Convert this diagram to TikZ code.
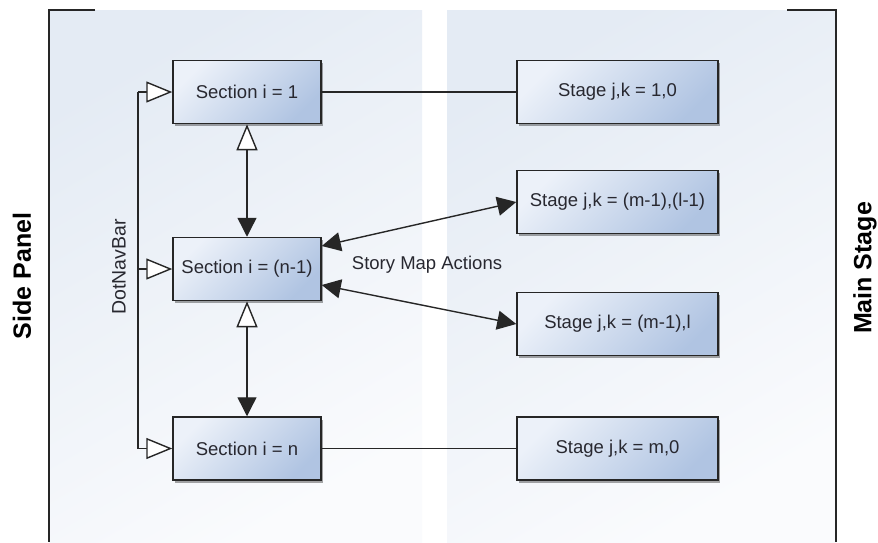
\documentclass[tikz,border=0pt]{standalone}
\usepackage{fontspec}
\setmainfont{Liberation Sans}
\usetikzlibrary{arrows.meta,shadows}
\definecolor{lineC}{RGB}{38,38,38}
\definecolor{txtC}{RGB}{40,40,48}
\definecolor{boxTop}{RGB}{236,241,249}
\definecolor{boxBot}{RGB}{176,196,226}
\definecolor{panTop}{RGB}{228,235,244}
\definecolor{panBot}{RGB}{250,251,253}
\tikzset{
  box/.style={draw=lineC, line width=1.5pt, top color=boxTop, bottom color=boxBot, shading angle=45,
    minimum width=148pt, minimum height=63pt, inner sep=0pt, text=txtC, font=\fontsize{18.5}{20}\selectfont,
    drop shadow={shadow xshift=2pt, shadow yshift=-2.5pt, fill=black, opacity=0.35}},
  stagebox/.style={box, minimum width=201pt},
  conn/.style={draw=lineC, line width=1.4pt},
  filltip/.tip={Triangle[length=19pt, width=19pt]},
  opentip/.tip={Triangle[open, length=26pt, width=21pt, fill=white]},
  panel/.style={top color=panTop, bottom color=panBot, shading angle=30, draw=none},
  side/.style={font=\fontsize{25}{28}\selectfont\bfseries, rotate=90, text=black},
}
\begin{document}
\begin{tikzpicture}[x=1pt, y=-1pt]
\useasboundingbox (0,0) rectangle (878,542);
\fill[white] (0,0) rectangle (878,542);
% panels
\shade[panel] (49,10) rectangle (422,542);
\shade[panel] (447,10) rectangle (836,542);
\draw[conn] (95,10) -- (49,10) -- (49,542);
\draw[conn] (787,10) -- (836,10) -- (836,542);
\node[side] (sidep) at (22,276) {Side Panel};
\node[side] (mainst) at (865,268) {Main Stage};
% section boxes
\node[box] (s1) at (247,92) {Section i = 1};
\node[box] (sn1) at (247,269) {Section i = (n-1)};
\node[box] (sn) at (247,448.5) {Section i = n};
% stage boxes
\node[stagebox] (st10) at (617.5,92) {Stage j,k = 1,0};
\node[stagebox] (stA) at (617.5,202) {Stage j,k = (m-1),(l-1)};
\node[stagebox] (stB) at (617.5,324) {Stage j,k = (m-1),l};
\node[stagebox] (stm0) at (617.5,448.5) {Stage j,k = m,0};
% DotNavBar
\coordinate (nbtop) at (138,92);
\coordinate (nbmid) at (138,269);
\coordinate (nbbot) at (138,448.5);
\draw[conn] (nbtop) -- (nbbot);
\draw[conn, -opentip] (nbtop) -- (s1.west);
\draw[conn, -opentip] (nbmid) -- (sn1.west);
\draw[conn, -opentip] (nbbot) -- (sn.west);
\node[rotate=90, text=txtC, font=\fontsize{19.5}{22}\selectfont] (dnb) at (119,267) {DotNavBar};
% vertical arrows
\draw[conn, opentip-filltip] (s1.south) -- (sn1.north);
\draw[conn, opentip-filltip] (sn1.south) -- (sn.north);
% horizontal lines
\draw[conn] (s1.east) -- (st10.west);
\draw[conn] (sn.east) -- (stm0.west);
% story map actions
\draw[conn, filltip-filltip] ([yshift=23pt]sn1.east) -- (stA.west);
\draw[conn, filltip-filltip] ([yshift=-16pt]sn1.east) -- (stB.west);
\node[text=txtC, font=\fontsize{18.5}{20}\selectfont] (sma) at (427,265) {Story Map Actions};
\end{tikzpicture}
\end{document}
